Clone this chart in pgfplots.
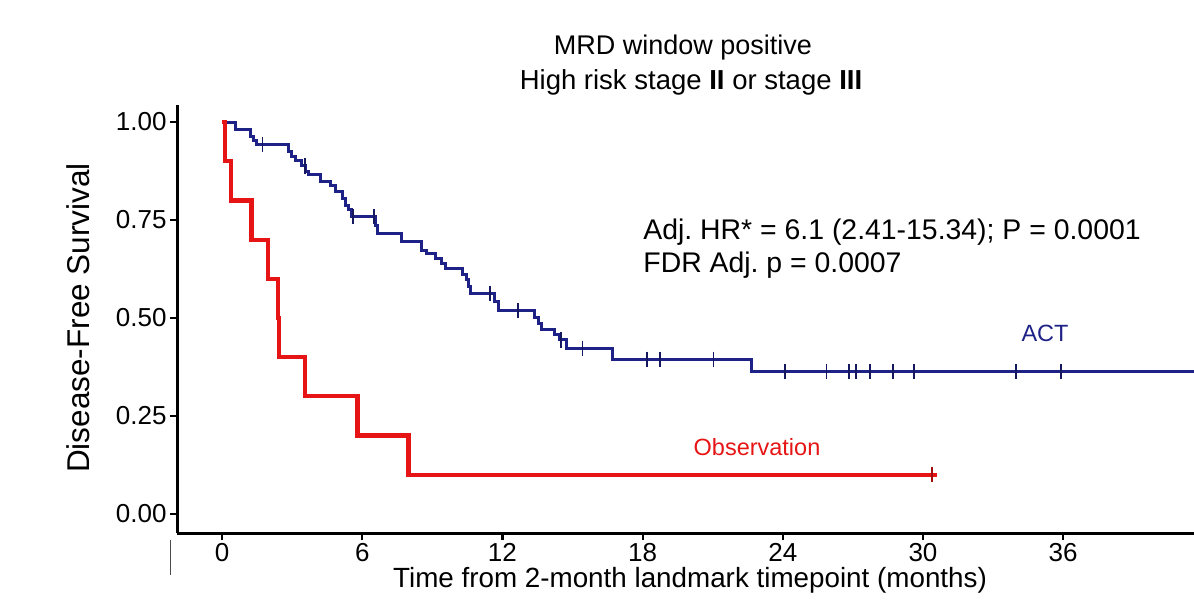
\documentclass[border=0pt]{standalone}
\usepackage{fontspec}
\setmainfont{Liberation Sans}
\usepackage{pgfplots}
\pgfplotsset{compat=1.18}
\definecolor{actblue}{RGB}{30,34,135}
\definecolor{obsred}{RGB}{230,20,20}
\frenchspacing
\begin{document}
\begin{tikzpicture}[x=1pt,y=1pt]
\useasboundingbox (0,0) rectangle (597,300);
\begin{axis}[
  at={(88.5pt,33.5pt)}, anchor=south west,
  scale only axis, width=508.5pt, height=214pt,
  xmin=-1.93, xmax=41.6, ymin=-0.0485, ymax=1.0434,
  axis x line=bottom, axis y line=left,
  axis line style={-, line width=1.5pt, black},
  xtick={0,6,12,18,24,30,36},
  ytick={0,0.25,0.5,0.75,1},
  yticklabels={0.00,0.25,0.50,0.75,1.00},
  tick align=outside, major tick length=3.5pt,
  tick style={line width=1.1pt, black},
  ticklabel style={font=\fontsize{13}{15}\selectfont},
  xticklabel style={inner sep=1.5pt},
  yticklabel style={inner sep=1.5pt},
  /pgf/number format/assume math mode=true,
]
% ACT
\addplot[const plot, color=actblue, line width=1.5pt] coordinates {
(0,1.0) (0.58,0.981) (1.2,0.964) (1.34,0.954) (1.49,0.943) (2.83,0.925)
(2.97,0.911) (3.16,0.901) (3.4,0.888) (3.55,0.875) (3.7,0.865) (4.23,0.848)
(4.66,0.837) (4.87,0.822) (5.16,0.805) (5.3,0.788) (5.42,0.776) (5.56,0.758)
(6.56,0.737) (6.65,0.716) (7.66,0.695) (8.55,0.673) (8.75,0.665) (9.15,0.652)
(9.4,0.638) (9.55,0.626) (10.3,0.610) (10.45,0.597) (10.55,0.580) (10.65,0.563)
(11.66,0.542) (11.84,0.519) (13.37,0.502) (13.56,0.486) (13.65,0.471)
(14.23,0.459) (14.45,0.444) (14.73,0.423) (16.73,0.395) (22.66,0.363) (41.6,0.363)
};
\addplot[only marks, mark=|, mark size=3.8pt, mark options={line width=0.9pt, color=actblue!70!black}] coordinates {
(1.73,0.943) (3.56,0.888) (5.6,0.758) (6.5,0.758) (11.47,0.563) (12.66,0.519)
(14.5,0.444) (15.43,0.423) (18.2,0.395) (18.76,0.395) (21.03,0.395)
(24.09,0.363) (25.87,0.363) (26.83,0.363) (27.12,0.363) (27.72,0.363)
(28.71,0.363) (29.6,0.363) (33.97,0.363) (35.92,0.363)
};
% Observation
\addplot[const plot, color=obsred, line width=2.1pt] coordinates {
(0,1.0) (0.13,0.9) (0.37,0.8) (1.26,0.7) (1.97,0.6) (2.4,0.5) (2.45,0.4)
(3.56,0.3) (5.8,0.2) (7.98,0.1) (30.6,0.1)
};
\addplot[only marks, mark=|, mark size=3.8pt, mark options={line width=0.9pt, color=obsred!70!black}] coordinates {
(30.4,0.1)
};
\end{axis}
\node[font=\fontsize{13.5}{16}\selectfont] at (341.5,276) {MRD window positive};
\node[font=\fontsize{13.75}{16}\selectfont] at (345.5,259) {High risk stage \textbf{II} or stage \textbf{III}};
\node[font=\fontsize{14.2}{16}\selectfont, anchor=west, inner sep=0pt] at (321.5,184) {Adj. HR* = 6.1 (2.41-15.34); P = 0.0001};
\node[font=\fontsize{14.2}{16}\selectfont, anchor=west, inner sep=0pt] at (321.5,167.5) {FDR Adj. p = 0.0007};
\node[font=\fontsize{11.75}{14}\selectfont, text=actblue] at (522.5,133.5) {ACT};
\node[font=\fontsize{11.75}{14}\selectfont, text=obsred] at (378.5,76.5) {Observation};
\node[font=\fontsize{15.75}{18}\selectfont, rotate=90] at (39,141) {Disease-Free Survival};
\node[font=\fontsize{13.9}{16}\selectfont] at (345,10) {Time from 2-month landmark timepoint (months)};
\draw[line width=0.5pt, black!70] (85,30) -- (85,12.5);
\end{tikzpicture}
\end{document}
